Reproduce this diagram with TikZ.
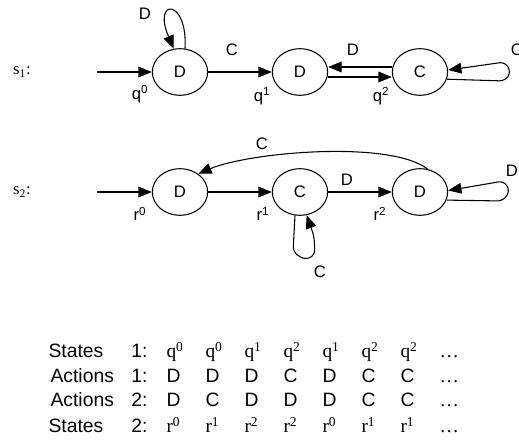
\documentclass[tikz,border=0pt]{standalone}
\usepackage{fontspec}
\setmainfont{Liberation Sans}
\newfontfamily\tms{Liberation Serif}
\usetikzlibrary{shapes.geometric,arrows.meta}
\begin{document}
\begin{tikzpicture}[x=0.75pt,y=-0.75pt,line width=0.8pt,
  >={Triangle[length=10pt,width=8pt]},
  state/.style={draw,ellipse,minimum width=41.5pt,minimum height=35pt,inner sep=0pt,font=\fontsize{12.5}{15}\selectfont},
  lbl/.style={inner sep=0pt,font=\fontsize{12.5}{15}\selectfont},
  sname/.style={inner sep=0pt,font=\tms\fontsize{12.5}{15}\selectfont},
  cell/.style={anchor=base west,inner sep=0pt,font=\fontsize{14.5}{17}\selectfont},
  tcell/.style={cell,font=\tms\fontsize{14.5}{17}\selectfont}]
\useasboundingbox (0,0) rectangle (519,441);
\node[sname] (s1) at (22,72) {s\textsubscript{1}:};
\node[state] (q0) at (180,72) {D};
\node[state] (q1) at (300,72) {D};
\node[state] (q2) at (420,72) {C};
\coordinate (i1) at (97,72);
\draw[->] (i1) -- (q0);
\draw[->] (q0) -- (q1);
\draw[->] ([yshift=3.75pt]q2.west) -- ([yshift=3.75pt]q1.east);
\draw[->] ([yshift=-3.75pt]q1.east) -- ([yshift=-3.75pt]q2.west);
\draw[->] (q0.78) .. controls (188,-2) and (152,-2) .. (q0.105);
\draw[->,rounded corners=4pt] (q2.-15) -- (505,81) -- (511,72) -- (505,62) -- (q2.4);
\node[lbl] (lD1) at (145,14) {D};
\node[lbl] (lC1) at (232,50) {C};
\node[lbl] (lD2) at (353,50) {D};
\node[lbl] (lC2) at (517,50) {C};
\node[lbl] (lq0) at (140,94) {q\textsuperscript{0}};
\node[lbl] (lq1) at (262,96) {q\textsuperscript{1}};
\node[lbl] (lq2) at (381,96) {q\textsuperscript{2}};
\node[sname] (s2) at (22,192) {s\textsubscript{2}:};
\node[state] (r0) at (180,192) {D};
\node[state] (r1) at (300,192) {C};
\node[state] (r2) at (420,192) {D};
\coordinate (i2) at (97,192);
\draw[->] (i2) -- (r0);
\draw[->] (r0) -- (r1);
\draw[->] (r1) -- (r2);
\draw[->] (r2.72) .. controls (390,140) and (250,152) .. (r0.45);
\draw[->,rounded corners=4pt] (r2.-17) -- (503,201) -- (510,191) -- (504,181) -- (r2.3);
\draw[->,rounded corners=4pt] (r1.-102) -- (293,252) -- (305,260) -- (315,255) -- (314,236) -- (r1.-74);
\node[lbl] (lD3) at (347,180) {D};
\node[lbl] (lC3) at (262,144) {C};
\node[lbl] (lD4) at (512,171) {D};
\node[lbl] (lC4) at (320,272) {C};
\node[lbl] (lr0) at (140,214) {r\textsuperscript{0}};
\node[lbl] (lr1) at (263,214) {r\textsuperscript{1}};
\node[lbl] (lr2) at (380,214) {r\textsuperscript{2}};
\node[cell] (ws1) at (48,358) {States};
\node[cell] (wa1) at (50,383) {Actions};
\node[cell] (wa2) at (50,407) {Actions};
\node[cell] (ws2) at (48,433) {States};
\node[cell,anchor=base east] (ns1) at (148,358) {1:};
\node[cell,anchor=base east] (na1) at (148,383) {1:};
\node[cell,anchor=base east] (na2) at (148,407) {2:};
\node[cell,anchor=base east] (ns2) at (148,433) {2:};
\foreach \t [count=\k] in {q\textsuperscript{0},q\textsuperscript{0},q\textsuperscript{1},q\textsuperscript{2},q\textsuperscript{1},q\textsuperscript{2},q\textsuperscript{2},\dots}
  \node[tcell] (qs\k) at ({166+39*(\k-1)},358) {\t};
\foreach \t [count=\k] in {D,D,D,C,D,C,C}
  \node[cell] (ca\k) at ({166+39*(\k-1)},383) {\t};
\foreach \t [count=\k] in {D,C,D,D,D,C,C}
  \node[cell] (cb\k) at ({166+39*(\k-1)},407) {\t};
\foreach \t [count=\k] in {r\textsuperscript{0},r\textsuperscript{1},r\textsuperscript{2},r\textsuperscript{2},r\textsuperscript{0},r\textsuperscript{1},r\textsuperscript{1},\dots}
  \node[tcell] (rs\k) at ({166+39*(\k-1)},433) {\t};
\node[tcell] (da) at (439,383) {\dots};
\node[tcell] (db) at (439,407) {\dots};
\end{tikzpicture}
\end{document}
